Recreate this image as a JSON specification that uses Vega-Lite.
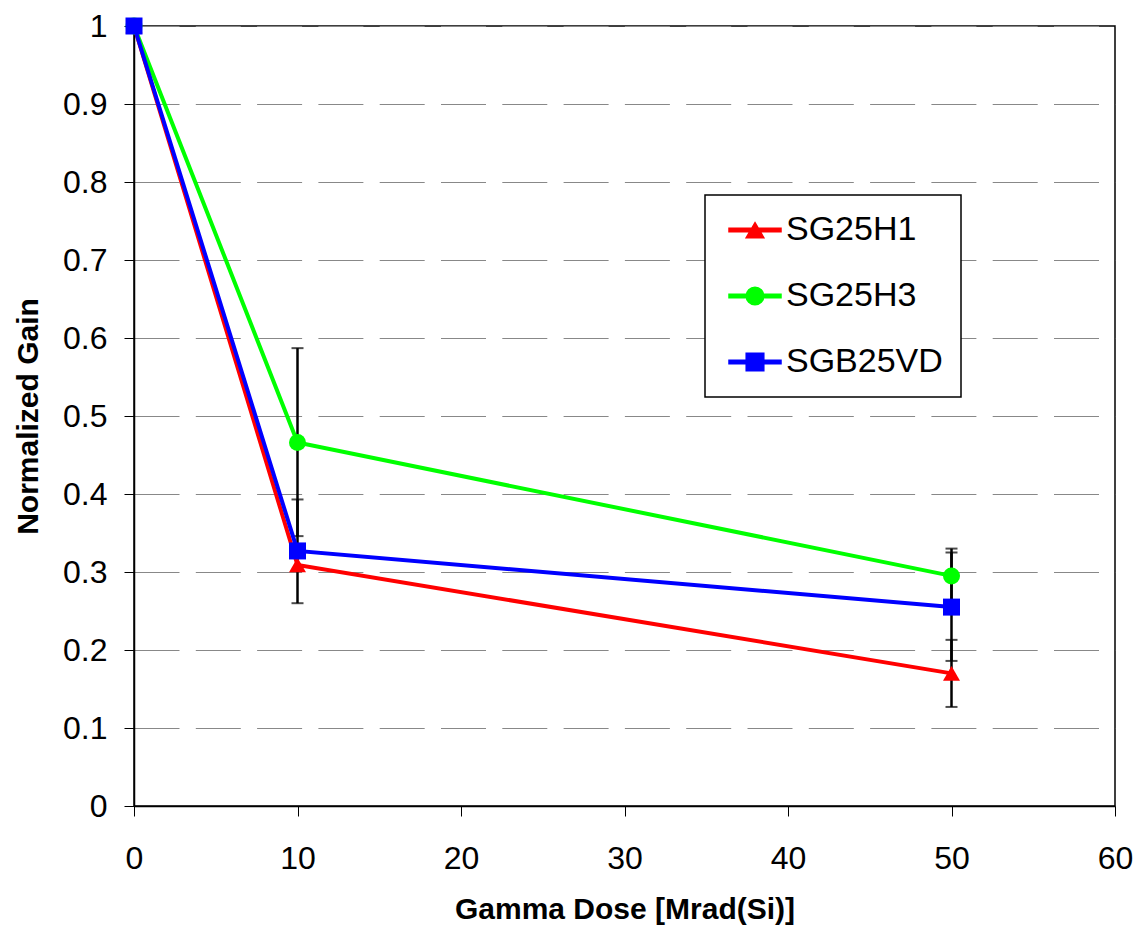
{
  "$schema": "https://vega.github.io/schema/vega-lite/v6.json",
  "width": 981,
  "height": 780,
  "autosize": {"type": "none"},
  "padding": {"left": 134, "top": 26, "right": 22, "bottom": 123},
  "background": "white",
  "config": {
    "font": "Liberation Sans",
    "view": {"stroke": "black", "strokeWidth": 1.5},
    "axis": {
      "labelFont": "Liberation Sans",
      "titleFont": "Liberation Sans",
      "labelColor": "black",
      "titleColor": "black",
      "domainColor": "black",
      "domainWidth": 1.5,
      "tickColor": "black",
      "tickSize": 10,
      "tickWidth": 1,
      "labelFontSize": 32,
      "titleFontSize": 30,
      "titleFontWeight": "bold",
      "labelFlush": false,
      "labelOverlap": false
    },
    "legend": {
      "orient": "none",
      "legendX": 571,
      "legendY": 169,
      "padding": 18,
      "symbolOffset": 15,
      "labelOffset": 14,
      "rowPadding": 32,
      "symbolSize": 400,
      "labelFontSize": 34,
      "labelFont": "Liberation Sans",
      "labelColor": "black"
    }
  },
  "datasets": {
    "series": [
      {"series": "SG25H1", "dose": 0, "gain": 1},
      {"series": "SG25H1", "dose": 10, "gain": 0.309},
      {"series": "SG25H1", "dose": 50, "gain": 0.17},
      {"series": "SG25H3", "dose": 0, "gain": 1},
      {"series": "SG25H3", "dose": 10, "gain": 0.466},
      {"series": "SG25H3", "dose": 50, "gain": 0.295},
      {"series": "SGB25VD", "dose": 0, "gain": 1},
      {"series": "SGB25VD", "dose": 10, "gain": 0.327},
      {"series": "SGB25VD", "dose": 50, "gain": 0.255}
    ],
    "errors": [
      {"series": "SG25H3", "dose": 10, "lo": 0.346, "hi": 0.587},
      {"series": "SGB25VD", "dose": 10, "lo": 0.26, "hi": 0.393},
      {"series": "SG25H1", "dose": 50, "lo": 0.127, "hi": 0.213},
      {"series": "SG25H3", "dose": 50, "lo": 0.26, "hi": 0.33},
      {"series": "SGB25VD", "dose": 50, "lo": 0.186, "hi": 0.325}
    ]
  },
  "layer": [
    {
      "data": {"name": "errors"},
      "mark": {
        "type": "errorbar",
        "ticks": {"size": 12, "color": "black", "thickness": 2},
        "rule": {"color": "black", "strokeWidth": 2.5}
      },
      "encoding": {
        "x": {"field": "dose", "type": "quantitative", "title": "Gamma Dose [Mrad(Si)]",
              "scale": {"domain": [0, 60], "nice": false},
              "axis": {"values": [0, 10, 20, 30, 40, 50, 60], "grid": false, "labelPadding": 27, "titlePadding": 20}},
        "y": {"field": "lo", "type": "quantitative", "title": "Normalized Gain",
              "scale": {"domain": [0, 1], "nice": false},
              "axis": {"values": [0, 0.1, 0.2, 0.3, 0.4, 0.5, 0.6, 0.7, 0.8, 0.9, 1], "format": "~g", "grid": true, "gridDash": [45, 16.3], "gridColor": "#888888", "gridWidth": 1, "labelPadding": 17, "titlePadding": 19}},
        "y2": {"field": "hi"}
      }
    },
    {
      "data": {"name": "series"},
      "mark": {"type": "line", "strokeWidth": 4},
      "encoding": {
        "x": {"field": "dose", "type": "quantitative", "title": "Gamma Dose [Mrad(Si)]",
              "scale": {"domain": [0, 60], "nice": false},
              "axis": {"values": [0, 10, 20, 30, 40, 50, 60], "grid": false, "labelPadding": 27, "titlePadding": 20}},
        "y": {"field": "gain", "type": "quantitative", "title": "Normalized Gain",
              "scale": {"domain": [0, 1], "nice": false},
              "axis": {"values": [0, 0.1, 0.2, 0.3, 0.4, 0.5, 0.6, 0.7, 0.8, 0.9, 1], "format": "~g", "grid": true, "gridDash": [45, 16.3], "gridColor": "#888888", "gridWidth": 1, "labelPadding": 17, "titlePadding": 19}},
        "color": {"field": "series", "type": "nominal",
                  "scale": {"domain": ["SG25H1", "SG25H3", "SGB25VD"], "range": ["#FF0000", "#00FF00", "#0000FF"]},
                  "legend": {
                    "title": null,
                    "encode": {
                      "legend": {"update": {"stroke": {"value": "black"}, "strokeWidth": {"value": 1.5}, "fill": {"value": "white"}}},
                      "symbols": {"update": {
                        "shape": {"signal": "datum.value === 'SG25H1' ? 'M-2.6,-0.18H2.6V0.18H-2.6Z M0,-0.73L0.88,0.77H-0.88Z' : datum.value === 'SG25H3' ? 'M-2.6,-0.18H2.6V0.18H-2.6Z M0.88,0C0.88,0.486,0.486,0.88,0,0.88C-0.486,0.88,-0.88,0.486,-0.88,0C-0.88,-0.486,-0.486,-0.88,0,-0.88C0.486,-0.88,0.88,-0.486,0.88,0Z' : 'M-2.6,-0.18H2.6V0.18H-2.6Z M-0.88,-0.88H0.88V0.88H-0.88Z'"},
                        "fill": {"signal": "datum.value === 'SG25H1' ? '#FF0000' : datum.value === 'SG25H3' ? '#00FF00' : '#0000FF'"},
                        "size": {"value": 400},
                        "opacity": {"value": 1},
                        "fillOpacity": {"value": 1}
                      }}
                    }
                  }}
      }
    },
    {
      "data": {"name": "series"},
      "transform": [{"filter": "datum.series === 'SG25H1'"}],
      "mark": {"type": "point", "shape": "triangle-up", "filled": true, "opacity": 1, "size": 289},
      "encoding": {
        "x": {"field": "dose", "type": "quantitative", "title": "Gamma Dose [Mrad(Si)]",
              "scale": {"domain": [0, 60], "nice": false},
              "axis": {"values": [0, 10, 20, 30, 40, 50, 60], "grid": false, "labelPadding": 27, "titlePadding": 20}},
        "y": {"field": "gain", "type": "quantitative", "title": "Normalized Gain",
              "scale": {"domain": [0, 1], "nice": false},
              "axis": {"values": [0, 0.1, 0.2, 0.3, 0.4, 0.5, 0.6, 0.7, 0.8, 0.9, 1], "format": "~g", "grid": true, "gridDash": [45, 16.3], "gridColor": "#888888", "gridWidth": 1, "labelPadding": 17, "titlePadding": 19}},
        "color": {"field": "series", "type": "nominal",
                  "scale": {"domain": ["SG25H1", "SG25H3", "SGB25VD"], "range": ["#FF0000", "#00FF00", "#0000FF"]},
                  "legend": null}
      }
    },
    {
      "data": {"name": "series"},
      "transform": [{"filter": "datum.series === 'SG25H3'"}],
      "mark": {"type": "point", "shape": "circle", "filled": true, "opacity": 1, "size": 289},
      "encoding": {
        "x": {"field": "dose", "type": "quantitative", "title": "Gamma Dose [Mrad(Si)]",
              "scale": {"domain": [0, 60], "nice": false},
              "axis": {"values": [0, 10, 20, 30, 40, 50, 60], "grid": false, "labelPadding": 27, "titlePadding": 20}},
        "y": {"field": "gain", "type": "quantitative", "title": "Normalized Gain",
              "scale": {"domain": [0, 1], "nice": false},
              "axis": {"values": [0, 0.1, 0.2, 0.3, 0.4, 0.5, 0.6, 0.7, 0.8, 0.9, 1], "format": "~g", "grid": true, "gridDash": [45, 16.3], "gridColor": "#888888", "gridWidth": 1, "labelPadding": 17, "titlePadding": 19}},
        "color": {"field": "series", "type": "nominal",
                  "scale": {"domain": ["SG25H1", "SG25H3", "SGB25VD"], "range": ["#FF0000", "#00FF00", "#0000FF"]},
                  "legend": null}
      }
    },
    {
      "data": {"name": "series"},
      "transform": [{"filter": "datum.series === 'SGB25VD'"}],
      "mark": {"type": "point", "shape": "square", "filled": true, "opacity": 1, "size": 289},
      "encoding": {
        "x": {"field": "dose", "type": "quantitative", "title": "Gamma Dose [Mrad(Si)]",
              "scale": {"domain": [0, 60], "nice": false},
              "axis": {"values": [0, 10, 20, 30, 40, 50, 60], "grid": false, "labelPadding": 27, "titlePadding": 20}},
        "y": {"field": "gain", "type": "quantitative", "title": "Normalized Gain",
              "scale": {"domain": [0, 1], "nice": false},
              "axis": {"values": [0, 0.1, 0.2, 0.3, 0.4, 0.5, 0.6, 0.7, 0.8, 0.9, 1], "format": "~g", "grid": true, "gridDash": [45, 16.3], "gridColor": "#888888", "gridWidth": 1, "labelPadding": 17, "titlePadding": 19}},
        "color": {"field": "series", "type": "nominal",
                  "scale": {"domain": ["SG25H1", "SG25H3", "SGB25VD"], "range": ["#FF0000", "#00FF00", "#0000FF"]},
                  "legend": null}
      }
    }
  ]
}
